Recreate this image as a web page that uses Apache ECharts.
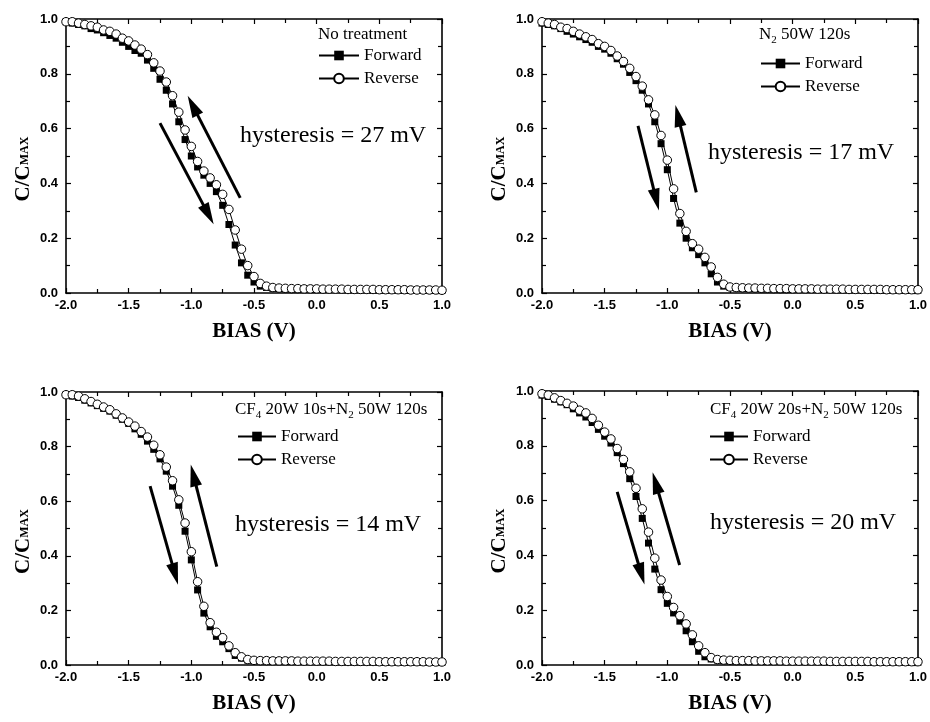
<!DOCTYPE html>
<html><head><meta charset="utf-8">
<script src="https://cdn.jsdelivr.net/npm/echarts@6/dist/echarts.min.js"></script>
<style>html,body{margin:0;padding:0;background:#fff}#c{width:930px;height:722px}</style>
</head><body><div id="c"></div>
<script>
const bias = [-2.0,-1.95,-1.9,-1.85,-1.8,-1.75,-1.7,-1.65,-1.6,-1.55,-1.5,-1.45,-1.4,-1.35,-1.3,-1.25,-1.2,-1.15,-1.1,-1.05,-1.0,-0.95,-0.9,-0.85,-0.8,-0.75,-0.7,-0.65,-0.6,-0.55,-0.5,-0.45,-0.4,-0.35,-0.3,-0.25,-0.2,-0.15,-0.1,-0.05,0.0,0.05,0.1,0.15,0.2,0.25,0.3,0.35,0.4,0.45,0.5,0.55,0.6,0.65,0.7,0.75,0.8,0.85,0.9,0.95,1.0];

const fwd1 = [0.99,0.985,0.98,0.975,0.965,0.96,0.95,0.94,0.93,0.915,0.9,0.885,0.875,0.85,0.82,0.78,0.74,0.69,0.625,0.56,0.50,0.46,0.43,0.40,0.37,0.32,0.25,0.175,0.11,0.065,0.04,0.025,0.02,0.017,0.016,0.015,0.015,0.014,0.014,0.014,0.013,0.013,0.013,0.013,0.012,0.012,0.012,0.012,0.012,0.011,0.011,0.011,0.011,0.011,0.010,0.010,0.010,0.010,0.010,0.009,0.009];
const rev1 = [0.99,0.99,0.985,0.98,0.975,0.97,0.96,0.955,0.945,0.93,0.92,0.905,0.89,0.87,0.84,0.81,0.77,0.72,0.66,0.595,0.535,0.48,0.445,0.42,0.395,0.36,0.305,0.23,0.16,0.10,0.06,0.035,0.025,0.02,0.018,0.017,0.016,0.016,0.015,0.015,0.015,0.014,0.014,0.014,0.014,0.013,0.013,0.013,0.013,0.013,0.012,0.012,0.012,0.012,0.012,0.011,0.011,0.011,0.011,0.011,0.010];

const fwd2 = [0.985,0.98,0.975,0.965,0.955,0.945,0.935,0.925,0.915,0.9,0.89,0.875,0.855,0.835,0.805,0.775,0.74,0.69,0.625,0.545,0.45,0.345,0.255,0.2,0.165,0.14,0.11,0.07,0.04,0.025,0.02,0.018,0.017,0.016,0.016,0.015,0.015,0.015,0.014,0.014,0.014,0.014,0.013,0.013,0.013,0.013,0.013,0.012,0.012,0.012,0.012,0.012,0.011,0.011,0.011,0.011,0.011,0.011,0.010,0.010,0.010];
const rev2 = [0.99,0.985,0.98,0.97,0.965,0.955,0.945,0.935,0.925,0.91,0.9,0.885,0.865,0.845,0.82,0.79,0.755,0.705,0.65,0.575,0.485,0.38,0.29,0.225,0.18,0.16,0.13,0.095,0.057,0.032,0.022,0.02,0.019,0.018,0.018,0.017,0.017,0.016,0.016,0.016,0.015,0.015,0.015,0.015,0.014,0.014,0.014,0.014,0.014,0.013,0.013,0.013,0.013,0.013,0.013,0.012,0.012,0.012,0.012,0.012,0.012];

const fwd3 = [0.99,0.985,0.98,0.97,0.96,0.95,0.94,0.93,0.915,0.9,0.885,0.865,0.845,0.82,0.79,0.755,0.71,0.655,0.585,0.49,0.385,0.275,0.19,0.14,0.105,0.085,0.06,0.035,0.025,0.018,0.016,0.015,0.015,0.014,0.014,0.014,0.014,0.013,0.013,0.013,0.013,0.013,0.013,0.012,0.012,0.012,0.012,0.012,0.012,0.012,0.011,0.011,0.011,0.011,0.011,0.011,0.011,0.011,0.010,0.010,0.010];
const rev3 = [0.99,0.99,0.985,0.975,0.965,0.955,0.945,0.935,0.92,0.905,0.89,0.875,0.855,0.835,0.805,0.77,0.725,0.675,0.605,0.52,0.415,0.305,0.215,0.155,0.12,0.1,0.07,0.045,0.03,0.02,0.017,0.016,0.016,0.015,0.015,0.015,0.015,0.014,0.014,0.014,0.014,0.014,0.014,0.013,0.013,0.013,0.013,0.013,0.013,0.013,0.012,0.012,0.012,0.012,0.012,0.012,0.012,0.012,0.011,0.011,0.011];

const fwd4 = [0.985,0.98,0.97,0.96,0.95,0.935,0.92,0.905,0.885,0.86,0.835,0.81,0.775,0.735,0.68,0.615,0.535,0.445,0.35,0.275,0.225,0.19,0.16,0.125,0.085,0.05,0.03,0.022,0.018,0.016,0.015,0.015,0.015,0.014,0.014,0.014,0.014,0.014,0.013,0.013,0.013,0.013,0.013,0.013,0.013,0.012,0.012,0.012,0.012,0.012,0.012,0.012,0.011,0.011,0.011,0.011,0.011,0.011,0.011,0.010,0.010];
const rev4 = [0.99,0.985,0.975,0.965,0.955,0.945,0.93,0.92,0.9,0.875,0.85,0.825,0.79,0.75,0.705,0.645,0.57,0.485,0.39,0.31,0.25,0.21,0.18,0.15,0.11,0.07,0.045,0.027,0.02,0.018,0.017,0.016,0.016,0.016,0.015,0.015,0.015,0.015,0.015,0.014,0.014,0.014,0.014,0.014,0.014,0.014,0.013,0.013,0.013,0.013,0.013,0.013,0.013,0.012,0.012,0.012,0.012,0.012,0.012,0.012,0.012];

// arrows: [x1, y1, x2, y2] in data units (tail -> head)
const arrows1 = [[-1.25,0.62,-0.863,0.286],[-0.61,0.347,-0.989,0.684]];
const arrows2 = [[-1.234,0.61,-1.088,0.34],[-0.769,0.367,-0.915,0.647]];
const arrows3 = [[-1.329,0.655,-1.13,0.333],[-0.797,0.36,-0.983,0.695]];
const arrows4 = [[-1.40,0.632,-1.207,0.332],[-0.902,0.365,-1.093,0.665]];

const hystText = ['hysteresis = 27 mV','hysteresis = 17 mV','hysteresis = 14 mV','hysteresis = 20 mV'];
const legendTitles = ['{a|No treatment}','{a|N}{s|2}{a| 50W 120s}','{a|CF}{s|4}{a| 20W 10s+N}{s|2}{a| 50W 120s}','{a|CF}{s|4}{a| 20W 20s+N}{s|2}{a| 50W 120s}'];
const xTickLabels = ['-2.0','-1.5','-1.0','-0.5','0.0','0.5','1.0'];
const yTickLabels = ['0.0','0.2','0.4','0.6','0.8','1.0'];

const panels = [
  {f:fwd1,r:rev1,a:arrows1,grid:{left:66,top:19,width:376,height:274},leg:{left:318,top:47,w:40},title:[318,35],hyst:[240,136]},
  {f:fwd2,r:rev2,a:arrows2,grid:{left:542,top:19,width:376,height:274},leg:{left:760,top:55,w:39},title:[759,35],hyst:[708,153]},
  {f:fwd3,r:rev3,a:arrows3,grid:{left:66,top:392,width:376,height:273},leg:{left:237,top:428,w:38},title:[235,410],hyst:[235,525]},
  {f:fwd4,r:rev4,a:arrows4,grid:{left:542,top:391,width:376,height:274},leg:{left:709,top:428,w:38},title:[710,410],hyst:[710,523]}
];

const SERIF = '"Liberation Serif","Times New Roman",serif';
const SANS = '"Liberation Sans",Arial,sans-serif';

const grids=[], xAxes=[], yAxes=[], series=[], legends=[], graphics=[];
panels.forEach((p,k)=>{
  grids.push(p.grid);
  const axLine = {show:true,onZero:false,lineStyle:{color:'#000',width:1.6}};
  const tick = {show:true,inside:true,length:5,lineStyle:{color:'#000',width:1.2}};
  const minor = {show:true,splitNumber:2,length:4,lineStyle:{color:'#000',width:1.2}};
  const xl = {show:true,fontFamily:SANS,fontWeight:'bold',fontSize:13,color:'#000',margin:6,
    formatter:v=>{const s=v.toFixed(1);return xTickLabels.indexOf(s)>=0?s:'';}};
  const yl = {show:true,fontFamily:SANS,fontWeight:'bold',fontSize:13,color:'#000',margin:8,
    formatter:v=>{const s=v.toFixed(1);return yTickLabels.indexOf(s)>=0?s:'';}};
  xAxes.push({type:'value',gridIndex:k,position:'bottom',min:-2,max:1,interval:0.5,axisLine:axLine,axisTick:tick,minorTick:minor,axisLabel:xl,splitLine:{show:false},
    name:'BIAS (V)',nameLocation:'middle',nameGap:28,nameTextStyle:{fontFamily:SERIF,fontWeight:'bold',fontSize:21,color:'#000'}});
  xAxes.push({type:'value',gridIndex:k,position:'top',min:-2,max:1,interval:0.5,axisLine:axLine,axisTick:tick,minorTick:minor,axisLabel:{show:false},splitLine:{show:false}});
  yAxes.push({type:'value',gridIndex:k,position:'left',min:0,max:1,interval:0.2,axisLine:axLine,axisTick:tick,minorTick:minor,axisLabel:yl,splitLine:{show:false},
    name:'{c|C/C}{m|MAX}',nameLocation:'middle',nameGap:32,nameRotate:90,
    nameTextStyle:{padding:[0,26,0,0],rich:{c:{fontFamily:SERIF,fontWeight:'bold',fontSize:21,color:'#000'},m:{fontFamily:SERIF,fontWeight:'bold',fontSize:12,color:'#000',padding:[3,0,0,0]}}}});
  yAxes.push({type:'value',gridIndex:k,position:'right',min:0,max:1,interval:0.2,axisLine:axLine,axisTick:tick,minorTick:minor,axisLabel:{show:false},splitLine:{show:false}});

  series.push({name:'Forward',type:'line',xAxisIndex:2*k,yAxisIndex:2*k,data:bias.map((x,i)=>[x,p.f[i]]),
    symbol:'rect',symbolSize:7,showAllSymbol:true,itemStyle:{color:'#000'},lineStyle:{color:'#000',width:1},z:2,animation:false,
    markLine:{silent:true,symbol:['none','triangle'],symbolSize:[12,22],animation:false,label:{show:false},
      lineStyle:{color:'#000',width:3,type:'solid'},
      data:p.a.map(a=>[{coord:[a[0],a[1]]},{coord:[a[2],a[3]]}])}});
  series.push({name:'Reverse',type:'line',xAxisIndex:2*k,yAxisIndex:2*k,data:bias.map((x,i)=>[x,p.r[i]]),
    symbol:'circle',symbolSize:8.5,showAllSymbol:true,itemStyle:{color:'#fff',borderColor:'#000',borderWidth:1},lineStyle:{color:'#000',width:1},z:3,animation:false});

  legends.push({left:p.leg.left,top:p.leg.top,padding:0,orient:'vertical',itemWidth:p.leg.w,itemHeight:12,itemGap:6,selectedMode:false,
    data:['Forward','Reverse'],textStyle:{fontFamily:SERIF,fontSize:17,color:'#000'}});
  graphics.push({type:'text',x:p.title[0],y:p.title[1],style:{text:legendTitles[k],verticalAlign:'middle',
    rich:{a:{fontFamily:SERIF,fontSize:17,fill:'#000'},s:{fontFamily:SERIF,fontSize:11,fill:'#000',padding:[10,0,0,0]}}}});
  graphics.push({type:'text',x:p.hyst[0],y:p.hyst[1],style:{text:hystText[k],fontFamily:SERIF,fontSize:24,fill:'#000',verticalAlign:'middle'}});
});

const chart = echarts.init(document.getElementById('c'),null,{renderer:'canvas'});
chart.setOption({animation:false,backgroundColor:'#fff',grid:grids,xAxis:xAxes,yAxis:yAxes,series:series,legend:legends,graphic:graphics});
</script></body></html>
